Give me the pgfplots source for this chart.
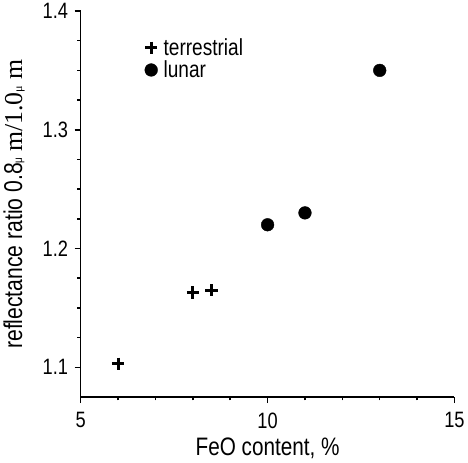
\documentclass[border=0pt]{standalone}
\usepackage{fontspec}
\setmainfont{Liberation Sans}[FakeStretch=0.82]
\newfontfamily\serifm{Liberation Serif}
\usepackage{pgfplots}
\pgfplotsset{compat=1.18}

\begin{document}
\begin{tikzpicture}
\begin{axis}[
  scale only axis,
  width=370pt, height=382pt,
  xmin=5, xmax=15, ymin=1.075, ymax=1.4,
  axis lines=left,
  axis line style={-, line width=1.5pt},
  xtick={5,10,15}, ytick={1.1,1.2,1.3,1.4},
  minor x tick num=4, minor y tick num=3,
  tick align=outside,
  major tick length=6pt, minor tick length=3.5pt,
  every tick/.style={black, line width=1.5pt},
  yticklabel style={/pgf/number format/fixed, /pgf/number format/precision=1, /pgf/number format/fixed zerofill, xshift=-3pt},
  xticklabel style={yshift=-6pt},
  /pgf/number format/assume math mode=true,
  tick label style={font=\fontsize{22}{22}\selectfont},
  xlabel={FeO content, \%},
  ylabel={reflectance ratio 0.8{\fontsize{12}{12}\selectfont μ} {\serifm m/1.0{\fontsize{12}{12}\selectfont μ} m}},
  xlabel style={font=\fontsize{25}{25}\selectfont, yshift=-3pt},
  ylabel style={font=\fontsize{25.5}{25.5}\selectfont, yshift=11pt},
  legend style={draw=none, fill=none, at={(0.163,0.94)}, anchor=north west,
    font=\fontsize{23}{23}\selectfont, row sep=0pt, column sep=4pt},
  legend cell align=left,
  clip=false,
]
\addplot[only marks, mark=+, mark size=6pt, line width=3pt] coordinates {
  (6,1.103) (8,1.163) (8.5,1.165)
};
\addlegendentry{terrestrial}
\addplot[only marks, mark=*, mark size=6.3pt, black] coordinates {
  (10,1.22) (11,1.23) (13,1.35)
};
\addlegendentry{lunar}
\end{axis}
\end{tikzpicture}
\end{document}
